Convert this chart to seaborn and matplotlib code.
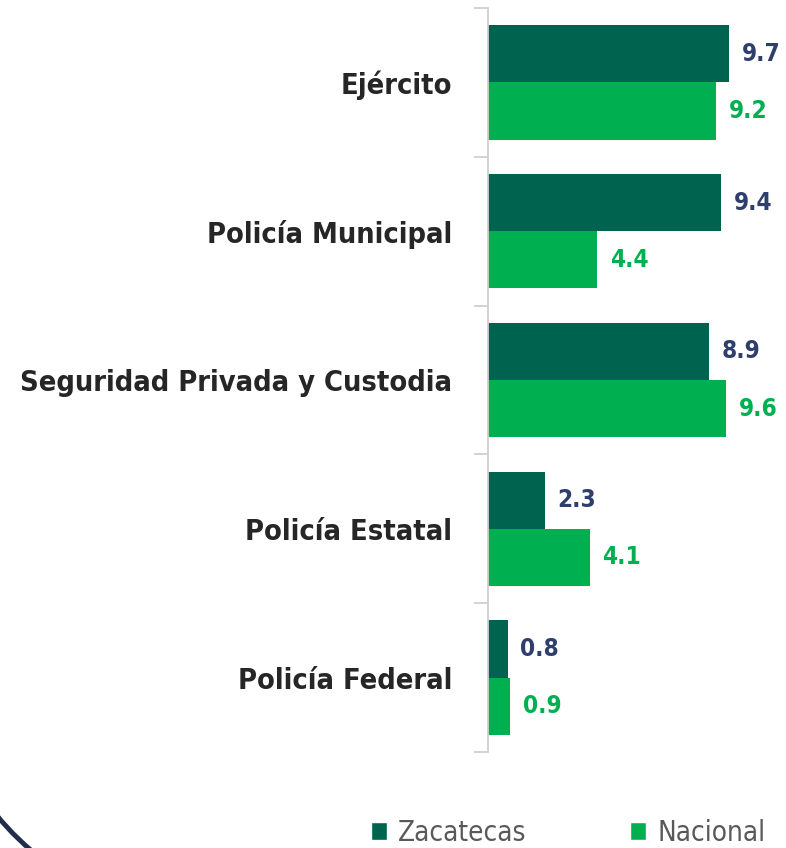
import numpy as np
import pandas as pd
import seaborn as sns
from matplotlib import pyplot as plt
from matplotlib.patches import Patch, Arc

categorias = ['Ejército', 'Policía Municipal', 'Seguridad Privada y Custodia',
              'Policía Estatal', 'Policía Federal']
zacatecas = [9.7, 9.4, 8.9, 2.3, 0.8]
nacional = [9.2, 4.4, 9.6, 4.1, 0.9]
series = ['Zacatecas', 'Nacional']

col_zac = '#00634F'
col_nac = '#00B050'
col_lbl_zac = '#2E3F6E'
col_lbl_nac = '#00B050'

df = pd.DataFrame({
    'categoria': categorias * 2,
    'serie': [series[0]] * len(categorias) + [series[1]] * len(categorias),
    'valor': zacatecas + nacional,
})

sns.set_style('white')
plt.rcParams['font.family'] = ['DejaVu Sans']
plt.rcParams['font.stretch'] = 'condensed'

fig = plt.figure(figsize=(7.86, 8.48), dpi=100)
ax = fig.add_axes([488 / 786, 96 / 848, 1 - 488 / 786, 744 / 848])

sns.barplot(data=df, x='valor', y='categoria', hue='serie', order=categorias,
            hue_order=series, palette=[col_zac, col_nac], width=0.77,
            saturation=1, linewidth=0, ax=ax, legend=False)

ax.set_xlim(0, 12)
ax.set_ylim(len(categorias) - 0.5, -0.5)
ax.set_xlabel('')
ax.set_ylabel('')
ax.set_xticks([])

for s in ['top', 'right', 'bottom']:
    ax.spines[s].set_visible(False)
ax.spines['left'].set_color('#CFCFCF')
ax.spines['left'].set_linewidth(1.3)

ax.tick_params(axis='y', which='major', length=0, pad=26,
               labelsize=20.8, labelcolor='#262626')
for t in ax.get_yticklabels():
    t.set_fontweight('bold')
# marcas entre categorías
ax.set_yticks(np.arange(-0.5, len(categorias)), minor=True)
ax.tick_params(axis='y', which='minor', left=True, length=10, width=1.3,
               color='#CFCFCF')

for cont, color in zip(ax.containers, [col_lbl_zac, col_lbl_nac]):
    ax.bar_label(cont, fmt='%.1f', padding=9, fontsize=17.5,
                 fontweight='bold', color=color)

handles = [Patch(facecolor=col_zac, label=series[0]),
           Patch(facecolor=col_nac, label=series[1])]
fig.legend(handles=handles, loc='center', bbox_to_anchor=(568 / 786, 1 - 833 / 848),
           ncol=2, frameon=False, fontsize=20, labelcolor='#595959',
           handlelength=0.6, handleheight=0.6, handletextpad=0.4,
           columnspacing=3.7)

# arco decorativo en la esquina inferior izquierda
fig.add_artist(Arc((2.0, 1.98), 5.24, 5.24, theta1=200, theta2=260,
                   transform=fig.dpi_scale_trans, color='#1F2D4A', lw=3.5))

fig.savefig('out.png', dpi=100, facecolor='white')
